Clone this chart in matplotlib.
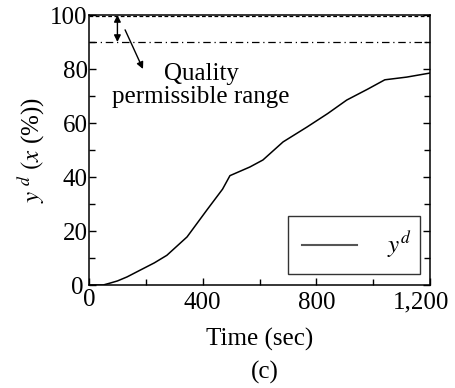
import matplotlib.pyplot as plt
import matplotlib.transforms as mtransforms
from matplotlib.ticker import FuncFormatter, FixedLocator, MultipleLocator

plt.rcParams['font.family'] = ['Liberation Serif', 'DejaVu Serif']
plt.rcParams['mathtext.fontset'] = 'stix'

# desired output trajectory
time_s = [0, 50, 74, 100, 134, 180, 230, 274, 345, 415, 470, 496,
          566, 612, 683, 767, 840, 907, 980, 1041, 1118, 1200]
y_d = [0, 0, 0.7, 1.5, 3.0, 5.5, 8.2, 11, 17.8, 27.8, 35.5, 40.5,
       43.7, 46.3, 53, 58.5, 63.5, 68.5, 72.5, 76.0, 77.0, 78.5]
x_ticks = [0, 400, 800, 1200]

quality_top = 100
quality_low = 90

fs = 18

fig = plt.figure(figsize=(4.55, 3.88), dpi=100)
ax = fig.add_axes([89 / 455, 1 - 285 / 388, 341 / 455, 270 / 388])

ax.plot(time_s, y_d, color='black', lw=1.1, label='$y^d$')
ax.axhline(quality_low, color='black', lw=0.9, ls=(0, (6, 3, 1, 3)))
ax.axhline(quality_top - 0.4, color='black', lw=0.9, ls=(0, (3, 2)))

# range arrows
ax.annotate('', xy=(100, quality_low), xytext=(100, quality_top),
            arrowprops=dict(arrowstyle='<|-|>', color='black', lw=1.0,
                            mutation_scale=10, shrinkA=0, shrinkB=0))
ax.annotate('', xy=(190, 80), xytext=(127, 94.5),
            arrowprops=dict(arrowstyle='-|>', color='black', lw=1.0,
                            mutation_scale=10, shrinkA=0, shrinkB=0))
ax.text(395, 74, 'Quality\npermissible range', ha='center', va='center',
        fontsize=fs, linespacing=1.05)

ax.set_xlim(0, 1200)
ax.set_ylim(0, 100)
ax.xaxis.set_major_locator(FixedLocator(x_ticks))
ax.xaxis.set_minor_locator(MultipleLocator(200))
ax.yaxis.set_major_locator(MultipleLocator(20))
ax.yaxis.set_minor_locator(MultipleLocator(10))
ax.xaxis.set_major_formatter(FuncFormatter(lambda v, p: f'{int(v):,}'))
ax.tick_params(which='both', direction='in', right=True, labelsize=fs,
               width=1.0, pad=1)
ax.tick_params(axis='x', which='major', pad=5)
ax.tick_params(which='major', length=5)
ax.tick_params(which='minor', length=4)
for s in ax.spines.values():
    s.set_linewidth(1.1)

ax.set_xlabel('Time (sec)', fontsize=fs, labelpad=10)
ax.set_ylabel('$y^{\\ d}$ $(x$ (%))', fontsize=fs, labelpad=2)

# nudge the end labels like in the reference
fig.canvas.draw()
xlabels = ax.get_xticklabels()
xlabels[-1].set_transform(xlabels[-1].get_transform() +
                          mtransforms.ScaledTranslation(-0.09, 0, fig.dpi_scale_trans))
xlabels[0].set_transform(xlabels[0].get_transform() +
                         mtransforms.ScaledTranslation(0.0, 0.03, fig.dpi_scale_trans))
ylabels = [t for t in ax.get_yticklabels() if t.get_text() == '0']
for t in ylabels:
    t.set_transform(t.get_transform() +
                    mtransforms.ScaledTranslation(-0.04, 0, fig.dpi_scale_trans))

leg = ax.legend(loc='lower right', bbox_to_anchor=(0.584, 0.04, 0.386, 0.2),
                mode='expand', fontsize=fs, frameon=True, fancybox=False,
                edgecolor='black', handlelength=2.2, handletextpad=1.2,
                borderpad=0.55, borderaxespad=0)
leg.get_frame().set_linewidth(1.0)
leg.get_lines()[0].set_color('#555555')
leg.get_lines()[0].set_linewidth(1.5)

fig.text(265 / 455, 1 - 372 / 388, '(c)', ha='center', va='center',
         fontsize=fs)

fig.savefig('out.png', dpi=100)
